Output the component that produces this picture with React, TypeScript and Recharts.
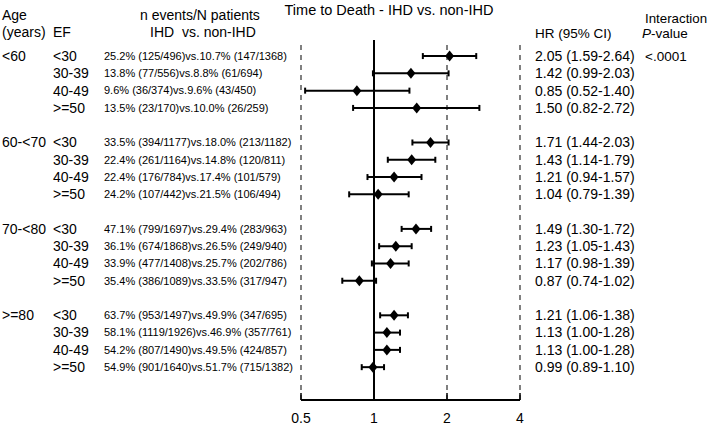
import React from "react";
import {
  ScatterChart,
  Scatter,
  XAxis,
  YAxis,
  ErrorBar,
  ReferenceLine,
} from "recharts";

const ageGroups = ["<60", "60-<70", "70-<80", ">=80"];
const efLabels = ["<30", "30-39", "40-49", ">=50"];
const interactionP = ["<.0001", "", "", ""];

const eventsText = [
  "25.2% (125/496)vs.10.7% (147/1368)",
  "13.8% (77/556)vs.8.8% (61/694)",
  "9.6% (36/374)vs.9.6% (43/450)",
  "13.5% (23/170)vs.10.0% (26/259)",
  "33.5% (394/1177)vs.18.0% (213/1182)",
  "22.4% (261/1164)vs.14.8% (120/811)",
  "22.4% (176/784)vs.17.4% (101/579)",
  "24.2% (107/442)vs.21.5% (106/494)",
  "47.1% (799/1697)vs.29.4% (283/963)",
  "36.1% (674/1868)vs.26.5% (249/940)",
  "33.9% (477/1408)vs.25.7% (202/786)",
  "35.4% (386/1089)vs.33.5% (317/947)",
  "63.7% (953/1497)vs.49.9% (347/695)",
  "58.1% (1119/1926)vs.46.9% (357/761)",
  "54.2% (807/1490)vs.49.5% (424/857)",
  "54.9% (901/1640)vs.51.7% (715/1382)",
];

const hr = [2.05, 1.42, 0.85, 1.5, 1.71, 1.43, 1.21, 1.04, 1.49, 1.23, 1.17, 0.87, 1.21, 1.13, 1.13, 0.99];
const ciLow = [1.59, 0.99, 0.52, 0.82, 1.44, 1.14, 0.94, 0.79, 1.3, 1.05, 0.98, 0.74, 1.06, 1.0, 1.0, 0.89];
const ciHigh = [2.64, 2.03, 1.4, 2.72, 2.03, 1.79, 1.57, 1.39, 1.72, 1.43, 1.39, 1.02, 1.38, 1.28, 1.28, 1.1];

const xTicks = [0.5, 1, 2, 4];

// one row per age/EF pair, with a blank row between age groups
const rows = hr.map((v, i) => {
  const g = Math.floor(i / 4);
  const k = i % 4;
  return {
    row: g * 5 + k,
    group: g,
    ef: k,
    idx: i,
    hr: v,
    err: [v - ciLow[i], ciHigh[i] - v],
  };
});

const FONT = "'Liberation Sans', Arial, sans-serif";

function fmt(v: number) {
  return v.toFixed(2);
}

function RowTick(props: any) {
  const { y, payload } = props;
  const r = rows.find((d) => d.row === payload.value);
  if (!r) return null;
  const i = r.idx;
  return (
    <g fontFamily={FONT} fill="#000">
      {r.ef === 0 && (
        <text x={2} y={y} dy="0.35em" fontSize={14}>
          {ageGroups[r.group]}
        </text>
      )}
      <text x={53} y={y} dy="0.35em" fontSize={14}>
        {efLabels[r.ef]}
      </text>
      <text x={104} y={y} dy="0.35em" fontSize={11}>
        {eventsText[i]}
      </text>
      <text x={535} y={y} dy="0.35em" fontSize={14}>
        {`${fmt(hr[i])} (${fmt(ciLow[i])}-${fmt(ciHigh[i])})`}
      </text>
      {r.ef === 0 && interactionP[r.group] && (
        <text x={645} y={y} dy="0.35em" fontSize={13.5}>
          {interactionP[r.group]}
        </text>
      )}
    </g>
  );
}

function Diamond(props: any) {
  const { cx, cy } = props;
  if (cx == null || cy == null) return null;
  return (
    <polygon
      points={`${cx},${cy - 5.5} ${cx + 4.5},${cy} ${cx},${cy + 5.5} ${cx - 4.5},${cy}`}
      fill="#000"
    />
  );
}

const header: React.CSSProperties = {
  position: "absolute",
  fontSize: 14,
  lineHeight: "16px",
  whiteSpace: "pre",
  color: "#000",
};

export default function App() {
  return (
    <div
      style={{
        position: "absolute",
        left: 0,
        top: 0,
        width: 709,
        height: 426,
        background: "#fff",
        fontFamily: FONT,
      }}
    >
      <div style={{ ...header, left: 283, top: 2, width: 212, textAlign: "center", fontSize: 14.5 }}>
        Time to Death - IHD vs. non-IHD
      </div>
      <div style={{ ...header, left: 2, top: 7 }}>Age</div>
      <div style={{ ...header, left: 2, top: 24 }}>(years)</div>
      <div style={{ ...header, left: 53, top: 24 }}>EF</div>
      <div style={{ ...header, left: 140, top: 7 }}>n events/N patients</div>
      <div style={{ ...header, left: 150, top: 24 }}>IHD  vs. non-IHD</div>
      <div style={{ ...header, left: 535, top: 26, fontSize: 13.5 }}>HR (95% CI)</div>
      <div style={{ ...header, left: 645, top: 11, fontSize: 13.3 }}>Interaction</div>
      <div style={{ ...header, left: 642, top: 26, fontSize: 13.5 }}>
        <i>P</i>-value
      </div>

      <ScatterChart
        width={709}
        height={426}
        margin={{ top: 40, right: 189, bottom: 0, left: 0 }}
      >
        <XAxis
          type="number"
          dataKey="hr"
          scale="log"
          domain={[0.5, 4]}
          ticks={xTicks}
          allowDataOverflow
          height={26}
          axisLine={{ stroke: "#000", strokeWidth: 2 }}
          tickLine={{ stroke: "#000", strokeWidth: 1.5 }}
          tickSize={-7}
          tickMargin={20}
          tick={{ fontSize: 14, fill: "#000" }}
        />
        <YAxis
          type="number"
          dataKey="row"
          domain={[-0.93, 19.9]}
          reversed
          allowDataOverflow
          ticks={rows.map((d) => d.row)}
          interval={0}
          width={301}
          axisLine={false}
          tickLine={false}
          tick={<RowTick />}
        />
        {[0.5, 2, 4].map((v) => (
          <ReferenceLine
            key={v}
            x={v}
            stroke="#808080"
            strokeWidth={2}
            strokeDasharray="5 5"
          />
        ))}
        <ReferenceLine x={1} stroke="#000" strokeWidth={2} />
        <Scatter data={rows} shape={<Diamond />} isAnimationActive={false}>
          <ErrorBar
            dataKey="err"
            direction="x"
            width={3}
            stroke="#000"
            strokeWidth={2}
          />
        </Scatter>
      </ScatterChart>
    </div>
  );
}
